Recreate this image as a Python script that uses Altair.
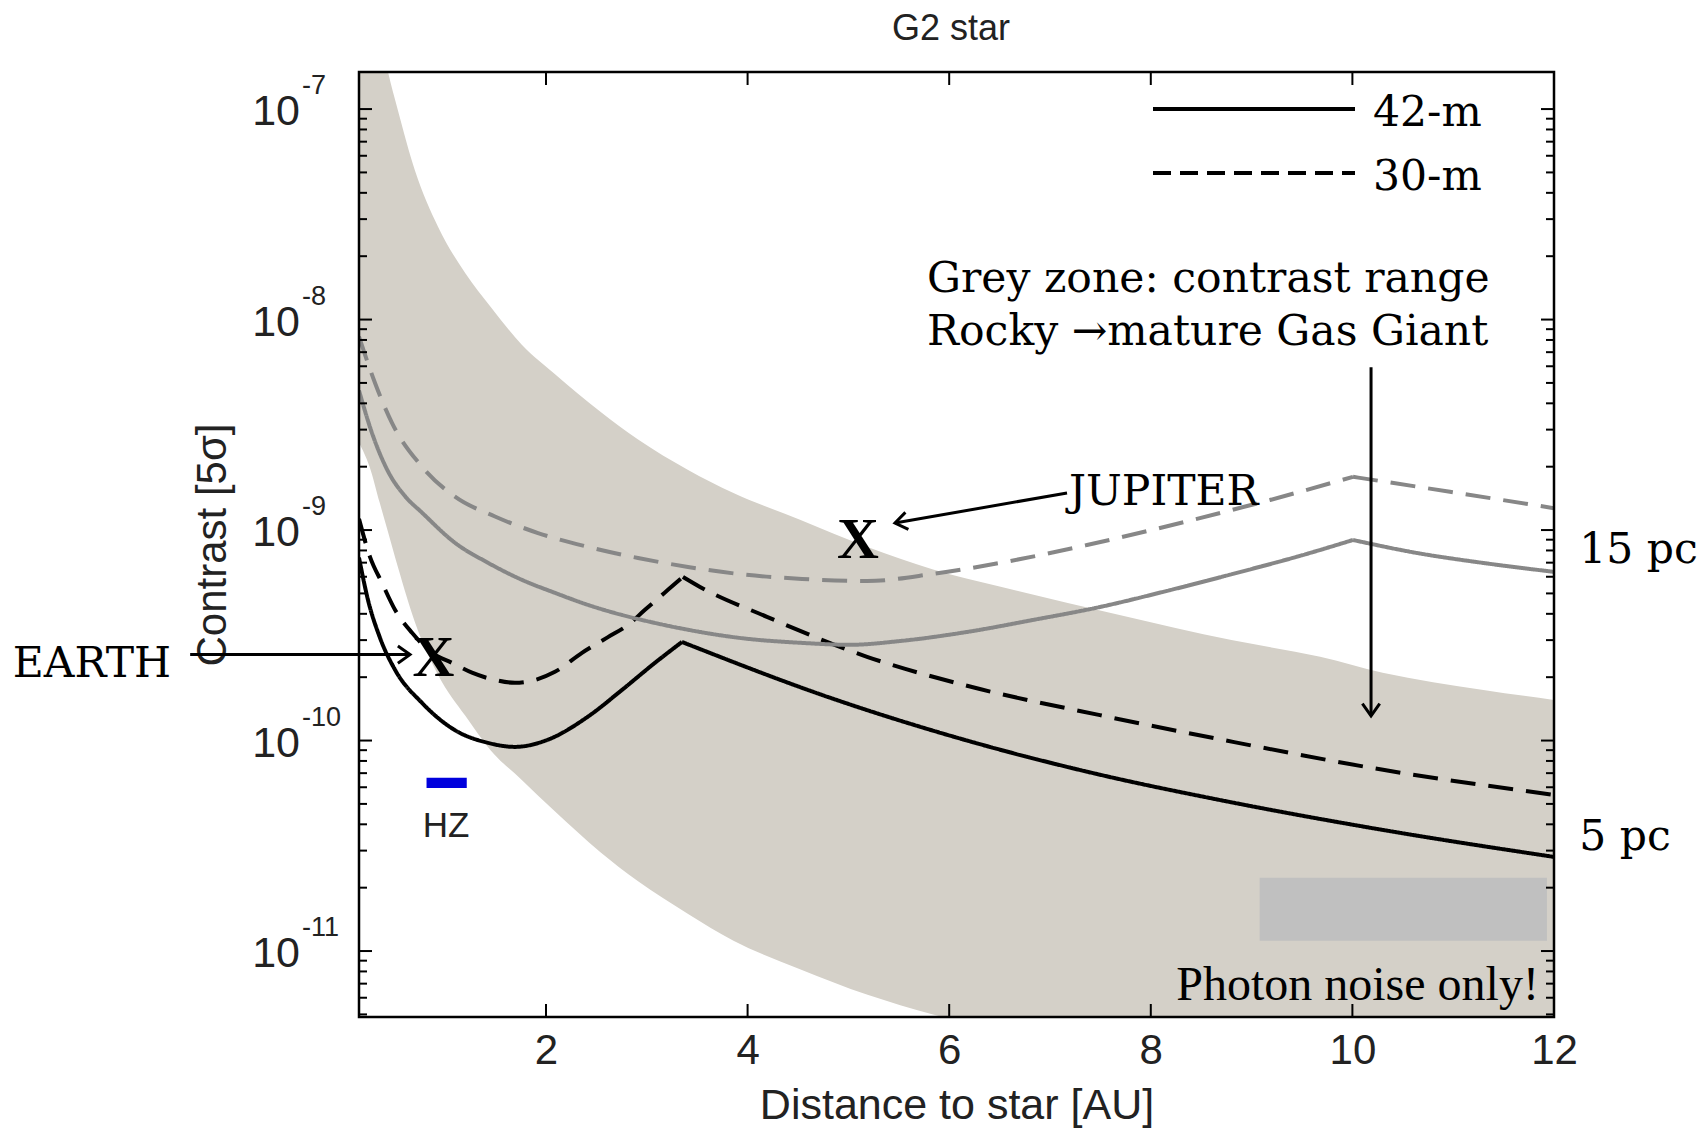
import altair as alt
import pandas as pd

W, H = 1195, 945

# ---------------- detection limits: separation [AU] vs 5-sigma contrast ----------------
sep_42m_5pc = [0.145, 0.234, 0.353, 0.502, 0.770, 1.097, 1.425, 1.692, 2.020, 2.417,
               2.754, 3.081, 3.349, 4.847, 6.177, 7.496, 8.657, 10.304, 12.0]
con_42m_5pc = [7.4e-10, 4.66e-10, 3.08e-10, 2.17e-10, 1.51e-10, 1.12e-10, 9.75e-11, 9.33e-11,
               1.01e-10, 1.30e-10, 1.74e-10, 2.34e-10, 2.94e-10, 1.58e-10, 1.0e-10, 6.88e-11,
               5.25e-11, 3.76e-11, 2.80e-11]

sep_30m_5pc = [0.145, 0.254, 0.373, 0.502, 0.671, 0.869, 1.067, 1.266, 1.494, 1.692, 1.891,
               2.089, 2.357, 2.615, 2.813, 2.982, 3.210, 3.359, 3.528, 4.192, 5.185, 6.177,
               7.496, 8.657, 10.304, 12.0]
con_30m_5pc = [1.13e-9, 7.46e-10, 5.61e-10, 4.18e-10, 3.25e-10, 2.61e-10, 2.34e-10, 2.10e-10,
               1.94e-10, 1.88e-10, 1.94e-10, 2.12e-10, 2.61e-10, 3.10e-10, 3.54e-10, 4.18e-10,
               5.20e-10, 5.99e-10, 5.37e-10, 3.87e-10, 2.50e-10, 1.82e-10, 1.32e-10, 1.02e-10,
               7.26e-11, 5.52e-11]

sep_42m_15pc = [0.145, 0.274, 0.433, 0.601, 0.770, 1.097, 1.425, 1.762, 2.089, 2.417, 2.754,
                3.081, 3.409, 3.905, 4.540, 5.016, 5.512, 6.177, 6.831, 7.496, 8.161, 8.815,
                9.480, 10.006, 10.641, 11.296, 12.0]
con_42m_15pc = [4.6e-9, 2.89e-9, 1.90e-9, 1.45e-9, 1.21e-9, 8.70e-10, 6.99e-10, 5.80e-10,
                5.03e-10, 4.41e-10, 3.95e-10, 3.62e-10, 3.36e-10, 3.08e-10, 2.91e-10, 2.85e-10,
                2.97e-10, 3.28e-10, 3.74e-10, 4.31e-10, 5.14e-10, 6.19e-10, 7.54e-10, 8.97e-10,
                7.78e-10, 6.98e-10, 6.33e-10]

sep_30m_15pc = [0.145, 0.304, 0.472, 0.770, 1.097, 1.494, 1.921, 2.417, 2.913, 3.409, 3.905,
                4.540, 5.185, 5.839, 6.504, 7.367, 8.359, 9.183, 10.006, 10.968, 12.0]
con_30m_15pc = [8.3e-9, 5.00e-9, 3.23e-9, 2.00e-9, 1.44e-9, 1.16e-9, 9.68e-10, 8.32e-10,
                7.37e-10, 6.68e-10, 6.19e-10, 5.86e-10, 5.73e-10, 6.19e-10, 6.98e-10, 8.49e-10,
                1.10e-9, 1.39e-9, 1.79e-9, 1.52e-9, 1.27e-9]

# ---------------- planet contrast range: rocky (lower) to mature gas giant (upper) ----------------
zone_sep = [0.145, 0.25, 0.35, 0.433, 0.53, 0.70, 0.93, 1.20, 1.45, 1.76, 2.09, 2.54, 2.91,
            3.41, 3.86, 4.52, 5.19, 5.84, 6.50, 7.69, 8.80, 9.68, 10.30, 11.30, 12.0]
zone_upper = [1.25e-6, 4.5e-7, 2.3e-7, 1.5e-7, 9.9e-8, 5.1e-8, 2.75e-8, 1.66e-8, 1.15e-8,
              7.6e-9, 5.5e-9, 3.65e-9, 2.7e-9, 1.93e-9, 1.5e-9, 1.12e-9, 8.3e-10, 6.5e-10,
              5.4e-10, 3.95e-10, 3.0e-10, 2.5e-10, 2.1e-10, 1.74e-10, 1.56e-10]
zone_lower = [2.6e-9, 2.0e-9, 1.35e-9, 9.8e-10, 6.7e-10, 3.65e-10, 2.05e-10, 1.31e-10, 9.0e-11,
              6.5e-11, 4.6e-11, 2.95e-11, 2.15e-11, 1.5e-11, 1.12e-11, 8.2e-12, 6.2e-12, 5.0e-12,
              4.2e-12, 3.0e-12, 2.4e-12, 2.0e-12, 1.8e-12, 1.5e-12, 1.3e-12]

# habitable zone of a G2 star
hz_sep = [0.815, 1.214]
hz_con = [5.95e-11, 6.65e-11]

# grey patch above the photon-noise note
patch_sep = [9.08, 11.93]
patch_con = [1.12e-11, 2.23e-11]

# solar-system planets
planet_names = ["EARTH", "JUPITER"]
planet_sep = [0.884, 5.095]
planet_con = [2.45e-10, 8.83e-10]

# annotation arrows (tail -> head) and head orientation in degrees
arrow_tail_sep = [-1.53, 7.169, 10.185]
arrow_tail_con = [2.56e-10, 1.50e-9, 5.94e-9]
arrow_head_sep = [0.651, 5.462, 10.185]
arrow_head_con = [2.56e-10, 1.08e-9, 1.31e-10]
arrow_angle = [0, 170, 90]

# annotation texts anchored in data coordinates (baseline position)
note_text = ["EARTH", "JUPITER", "Grey zone: contrast range", "Rocky \u2192mature Gas Giant",
             "15 pc", "5 pc"]
note_sep = [-3.29, 7.188, 5.78, 5.78, 12.25, 12.25]
note_con = [2.00e-10, 1.32e-9, 1.35e-8, 7.57e-9, 6.98e-10, 3.03e-11]

# axis ticks
x_tick_values = [2, 4, 6, 8, 10]
x_label_values = [2, 4, 6, 8, 10, 12]
y_exponents = [-7, -8, -9, -10, -11]

legend_labels = ["42-m", "30-m"]
title_text = "G2 star"

# ---------------- scales and axes ----------------
x_scale = alt.Scale(domain=[0.145, 12], nice=False, zero=False)
y_scale = alt.Scale(type="log", domain=[4.86e-12, 1.5e-7], nice=False)

x_axis = alt.Axis(values=x_label_values, format="d", labelFont="Liberation Sans",
                  labelFontSize=42, labelColor="#222222", labelPadding=13, labelFlush=False,
                  ticks=False, domain=False, grid=False, title="Distance to star [AU]",
                  titleFont="Liberation Sans", titleFontSize=43, titleFontWeight="normal",
                  titleColor="#222222", titlePadding=13)
y_axis = alt.Axis(labels=False, ticks=False, domain=False, grid=False, title="Contrast [5\u03c3]",
                  titleFont="Liberation Sans", titleFontSize=42, titleFontWeight="normal",
                  titleColor="#222222", titlePadding=125)


def X(field):
    return alt.X(field, type="quantitative", scale=x_scale, axis=x_axis)


def Y(field):
    return alt.Y(field, type="quantitative", scale=y_scale, axis=y_axis)


# ---------------- tables ----------------
series = [
    ("42-m, 5 pc", "42-m", sep_42m_5pc, con_42m_5pc),
    ("30-m, 5 pc", "30-m", sep_30m_5pc, con_30m_5pc),
    ("42-m, 15 pc", "42-m", sep_42m_15pc, con_42m_15pc),
    ("30-m, 15 pc", "30-m", sep_30m_15pc, con_30m_15pc),
]
rows = []
for name, tel, seps, cons in series:
    # each curve has a sharp kink (the outer working-angle peak); smooth each side separately
    outer = [i for i, a in enumerate(seps) if a > 2]
    kink = max(outer, key=lambda i: cons[i])
    for i, (a, c) in enumerate(zip(seps, cons)):
        if i <= kink:
            rows.append({"series": name, "telescope": tel, "part": name + " a", "sep": a, "contrast": c})
        if i >= kink:
            rows.append({"series": name, "telescope": tel, "part": name + " b", "sep": a, "contrast": c})
lines_df = pd.DataFrame(rows)

zone_df = pd.DataFrame({"sep": zone_sep, "upper": zone_upper, "lower": zone_lower})
hz_df = pd.DataFrame({"sep": [hz_sep[0]], "sep2": [hz_sep[1]], "con": [hz_con[0]], "con2": [hz_con[1]]})
patch_df = pd.DataFrame({"sep": [patch_sep[0]], "sep2": [patch_sep[1]],
                         "con": [patch_con[0]], "con2": [patch_con[1]]})
planet_df = pd.DataFrame({"name": planet_names, "sep": planet_sep, "con": planet_con})
arrow_df = pd.DataFrame({"sep": arrow_tail_sep, "con": arrow_tail_con,
                         "sep2": arrow_head_sep, "con2": arrow_head_con, "ang": arrow_angle})
note_df = pd.DataFrame({"text": note_text, "sep": note_sep, "con": note_con})

y_major = [10.0 ** e for e in y_exponents]
y_minor = [m * 10.0 ** e for e in range(-12, -6) for m in range(2, 10)
           if 4.86e-12 < m * 10.0 ** e < 1.5e-7]
ymaj_df = pd.DataFrame({"v": y_major})
ymin_df = pd.DataFrame({"v": y_minor})
xtick_df = pd.DataFrame({"v": x_tick_values})
ylab_df = pd.DataFrame({"v": y_major, "sup": [str(e) for e in y_exponents]})
one_df = pd.DataFrame({"k": [0]})

# ---------------- layers ----------------
band = alt.Chart(zone_df).mark_area(color="#d4d0c8", opacity=1, clip=True,
                                    interpolate="monotone").encode(
    x=X("sep"), y=Y("upper"), y2="lower")

patch = alt.Chart(patch_df).mark_rect(color="#c0c0c0", opacity=1).encode(
    x=X("sep"), x2="sep2", y=Y("con"), y2="con2")

hz = alt.Chart(hz_df).mark_rect(color="#0000dd", opacity=1).encode(
    x=X("sep"), x2="sep2", y=Y("con"), y2="con2")

hz_label = alt.Chart(pd.DataFrame({"sep": [1.008], "con": [3.47e-11]})).mark_text(
    text="HZ", font="Liberation Sans", fontSize=35, color="#222222", align="center",
    baseline="alphabetic").encode(x=X("sep"), y=Y("con"))

curves = alt.Chart(lines_df).mark_line(strokeWidth=4, clip=True, interpolate="monotone").encode(
    x=X("sep"), y=Y("contrast"),
    color=alt.Color("series:N", legend=None,
                    scale=alt.Scale(domain=[s[0] for s in series],
                                    range=["black", "black", "#878787", "#878787"])),
    strokeDash=alt.StrokeDash("telescope:N", legend=None,
                              scale=alt.Scale(domain=["42-m", "30-m"], range=[[1, 0], [25, 13]])),
    detail="part:N")

planets = alt.Chart(planet_df).mark_text(
    text="X", font="Liberation Serif", fontWeight="bold", fontSize=58, color="black",
    align="center", baseline="middle").encode(x=X("sep"), y=Y("con"))

shafts = alt.Chart(arrow_df).mark_rule(color="black", strokeWidth=3).encode(
    x=X("sep"), y=Y("con"), x2="sep2", y2="con2")
heads = alt.Chart(arrow_df).mark_point(
    shape="M-1.4,-1L0,0L-1.4,1", filled=False, color="black", strokeWidth=3, size=300,
    opacity=1).encode(x=X("sep2"), y=Y("con2"), angle=alt.Angle("ang:Q", scale=None))

notes = alt.Chart(note_df).mark_text(
    font="DejaVu Serif", fontSize=42.5, color="black", align="left",
    baseline="alphabetic").encode(x=X("sep"), y=Y("con"), text="text:N")

photon_note = alt.Chart(pd.DataFrame({"sep": [11.85], "con": [5.87e-12]})).mark_text(
    text="Photon noise only!", font="Liberation Serif", fontSize=48, color="black",
    align="right", baseline="alphabetic").encode(x=X("sep"), y=Y("con"))

# inward-pointing ticks on all four sides (box style)
tick_style = dict(color="black", strokeWidth=2)
ticks = [
    alt.Chart(ymaj_df).mark_rule(**tick_style).encode(x=alt.value(0), x2=alt.value(13), y=Y("v")),
    alt.Chart(ymin_df).mark_rule(**tick_style).encode(x=alt.value(0), x2=alt.value(8), y=Y("v")),
    alt.Chart(ymaj_df).mark_rule(**tick_style).encode(x=alt.value(W), x2=alt.value(W - 13), y=Y("v")),
    alt.Chart(ymin_df).mark_rule(**tick_style).encode(x=alt.value(W), x2=alt.value(W - 8), y=Y("v")),
    alt.Chart(xtick_df).mark_rule(**tick_style).encode(x=X("v"), y=alt.value(H), y2=alt.value(H - 13)),
    alt.Chart(xtick_df).mark_rule(**tick_style).encode(x=X("v"), y=alt.value(0), y2=alt.value(13)),
]

frame = alt.Chart(one_df).mark_rect(filled=False, stroke="black", strokeWidth=2.5).encode(
    x=alt.value(0), x2=alt.value(W), y=alt.value(0), y2=alt.value(H))

# y tick labels written as 10 with a raised exponent
ylab_base = alt.Chart(ylab_df).mark_text(
    text="10", font="Liberation Sans", fontSize=43, color="#222222", align="right",
    baseline="middle", dy=3).encode(x=alt.value(-59), y=Y("v"))
ylab_sup = alt.Chart(ylab_df).mark_text(
    font="Liberation Sans", fontSize=27, color="#222222", align="left",
    baseline="middle", dy=-23).encode(x=alt.value(-57), y=Y("v"), text="sup:N")

# chart title above the frame
title = alt.Chart(pd.DataFrame({"t": [title_text]})).mark_text(
    font="Liberation Sans", fontSize=36, color="#222222", align="center",
    baseline="alphabetic").encode(x=alt.value(592), y=alt.value(-32), text="t:N")

# legend for the telescope line styles
legend_layers = []
for i, (lab, dash) in enumerate(zip(legend_labels, [[1, 0], [18, 9]])):
    ly = 37 + 64 * i
    d = pd.DataFrame({"label": [lab]})
    legend_layers.append(alt.Chart(d).mark_rule(color="black", strokeWidth=4, strokeDash=dash).encode(
        x=alt.value(794), x2=alt.value(996), y=alt.value(ly)))
    legend_layers.append(alt.Chart(d).mark_text(
        font="DejaVu Serif", fontSize=42.5, color="black", align="left", baseline="alphabetic").encode(
        x=alt.value(1014), y=alt.value(ly + 17), text="label:N"))

chart = alt.layer(
    band, patch, hz, hz_label, curves, planets, shafts, heads, notes, photon_note,
    *ticks, frame, ylab_base, ylab_sup, title, *legend_layers
).properties(
    width=W, height=H,
    autosize=alt.AutoSizeParams(type="none"),
    padding={"left": 359, "top": 72, "right": 148, "bottom": 113},
).configure_view(stroke=None).configure(background="white")

chart.save("out.html", embed_options={"renderer": "svg", "actions": False})
